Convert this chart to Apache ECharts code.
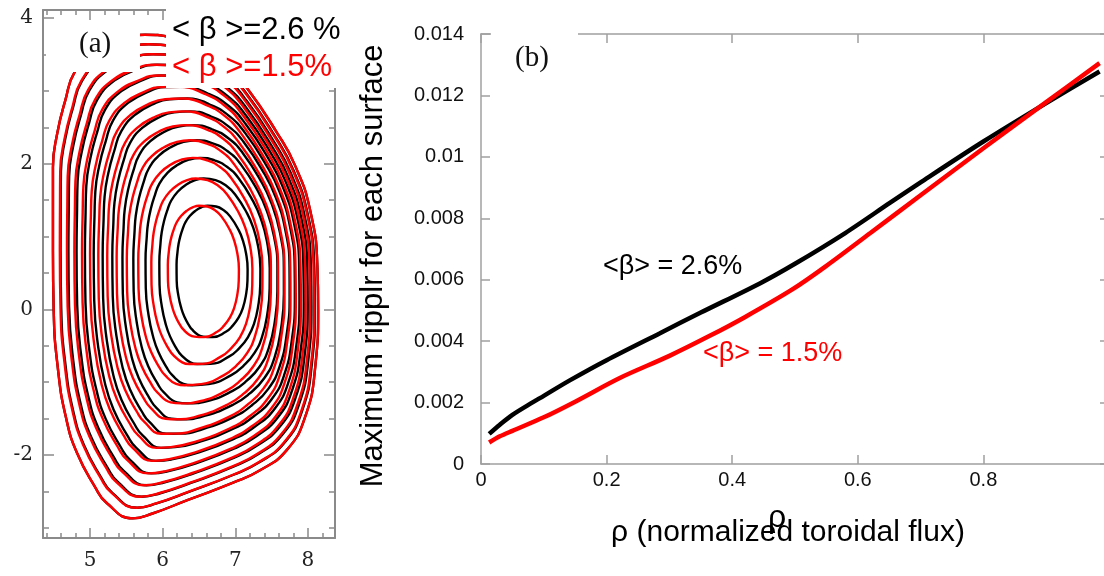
<!DOCTYPE html>
<html><head><meta charset="utf-8">
<script src="https://cdn.jsdelivr.net/npm/echarts@6/dist/echarts.min.js"></script>
<style>html,body{margin:0;padding:0;background:#fff}#c{width:1104px;height:576px}</style>
</head><body><div id="c"></div>
<script>
// ---------- Panel (b): maximum ripple vs rho ----------
const rhoBlack    = [0.013,0.03,0.05,0.08,0.1,0.142,0.2,0.285,0.35,0.444,0.5,0.58,0.651,0.7,0.8,0.9,0.985];
const rippleBlack = [0.00098,0.00128,0.00160,0.00198,0.00222,0.00273,0.00338,0.00426,0.00493,0.00588,0.00652,0.00752,0.00850,0.00917,0.01050,0.01175,0.01278];
const rhoRed      = [0.013,0.03,0.05,0.1,0.15,0.221,0.3,0.365,0.42,0.497,0.55,0.62,0.7,0.8,0.9,0.985];
const rippleRed   = [0.00070,0.00090,0.00108,0.00152,0.00203,0.00280,0.00352,0.00418,0.00478,0.00570,0.00645,0.00752,0.00875,0.01028,0.01178,0.01305];

// ---------- Panel (a): flux surfaces ----------
// outer (last closed) flux surface (R, Z)
const boundaryR = [5.76,6.10,6.51,6.86,7.16,7.57,7.82,8.03,8.13,8.14,8.10,7.96,7.71,7.34,6.97,6.34,5.87,5.59,5.23,5.07,4.82,4.67,4.56,4.50,4.49,4.49,4.49,4.55,4.66,4.79,5.07,5.41];
const boundaryZ = [3.77,3.74,3.59,3.37,3.04,2.43,1.98,1.36,0.58,-0.01,-0.79,-1.48,-1.93,-2.21,-2.38,-2.62,-2.80,-2.87,-2.66,-2.44,-1.97,-1.49,-0.83,-0.01,0.81,1.50,1.95,2.42,2.87,3.26,3.56,3.71];
const axisBlack = [6.71, 0.52];   // magnetic axis, <beta>=2.6%
const axisRed   = [6.58, 0.52];   // magnetic axis, <beta>=1.5%
const coreShape = [1.75, 3.30];   // near-axis ellipse half-width / half-height (scaled by rho)
const surfaceRho = [0.277,0.392,0.480,0.555,0.620,0.679,0.734,0.784,0.832,0.877,0.920,0.961,1.0];
const xMajorA = [5,6,7,8];
const xMinorA = [4.4,4.6,4.8,5.2,5.4,5.6,5.8,6.2,6.4,6.6,6.8,7.2,7.4,7.6,7.8,8.2];
const yMajorA = [-2,0,2,4];
const yMinorA = [-3,-2.5,-1.5,-1,-0.5,0.5,1,1.5,2.5,3,3.5];

const bcR = (Math.min(...boundaryR)+Math.max(...boundaryR))/2;
const bcZ = (Math.min(...boundaryZ)+Math.max(...boundaryZ))/2;
function surface(axis, rho){
  const n = boundaryR.length, pts = [];
  const s = 1 - rho*rho, w = rho;
  const cx = bcR + (axis[0]-bcR)*s, cz = bcZ + (axis[1]-bcZ)*s;
  for (let j=0;j<n;j++){
    const dx = boundaryR[j]-bcR, dz = boundaryZ[j]-bcZ;
    const th = Math.atan2(dz, dx);
    const re = 1/Math.sqrt(Math.pow(Math.cos(th)/coreShape[0],2)+Math.pow(Math.sin(th)/coreShape[1],2));
    const ex = re*Math.cos(th), ez = re*Math.sin(th);
    pts.push([cx + rho*((1-w)*ex + w*dx), cz + rho*((1-w)*ez + w*dz)]);
  }
  return [pts[n-2], pts[n-1]].concat(pts, [pts[0], pts[1], pts[2]]);
}

const gray = '#8a8a8a';
const serifLbl = {fontFamily:'DejaVu Serif', fontSize:20, color:'#222'};
const sansLbl = {fontFamily:'Liberation Sans', fontSize:20, color:'#111'};
const xA = [4.353, 8.372], yA = [-3.14, 4.11];

function axA(kind, pos, vals, len, showLine, label){
  return {gridIndex:0, type:'value', position:pos, min:(kind==='x'?xA:yA)[0], max:(kind==='x'?xA:yA)[1],
    axisLine:{show:showLine, onZero:false, lineStyle:{color:gray, width:2}},
    axisTick:{show:true, inside:true, length:len, customValues:vals, lineStyle:{color:gray, width:1.5}},
    axisLabel:label ? Object.assign({show:true, customValues:vals, margin:kind==='x'?13:10}, serifLbl) : {show:false},
    splitLine:{show:false}};
}

const series = [];
surfaceRho.forEach(r => series.push({type:'line', xAxisIndex:0, yAxisIndex:0, data:surface(axisBlack, r), smooth:0.5,
  showSymbol:false, silent:true, lineStyle:{color:'#000', width:2.4}, z:3}));
surfaceRho.forEach(r => series.push({type:'line', xAxisIndex:0, yAxisIndex:0, data:surface(axisRed, r), smooth:0.5,
  showSymbol:false, silent:true, lineStyle:{color:'#ff0000', width:2.4}, z:4}));
series.push({type:'line', name:'<β> = 2.6%', xAxisIndex:4, yAxisIndex:4, data:rhoBlack.map((x,i)=>[x, rippleBlack[i]]),
  smooth:0.3, showSymbol:false, lineStyle:{color:'#000', width:4.5}, z:5});
series.push({type:'line', name:'<β> = 1.5%', xAxisIndex:4, yAxisIndex:4, data:rhoRed.map((x,i)=>[x, rippleRed[i]]),
  smooth:0.3, showSymbol:false, lineStyle:{color:'#ff0000', width:4.5}, z:5});

const axB = {color:'#a0a0a0', width:1.5};
const option = {
  animation:false,
  backgroundColor:'#fff',
  grid:[
    {left:43, top:10, width:292, height:528, outerBoundsMode:'none', containLabel:false},
    {left:481, top:34, width:628, height:430, outerBoundsMode:'none', containLabel:false}
  ],
  xAxis:[
    axA('x','bottom',xMajorA,10,true,true),
    axA('x','bottom',xMinorA,5,false,false),
    axA('x','top',xMajorA,10,true,false),
    axA('x','top',xMinorA,5,false,false),
    {gridIndex:1, type:'value', position:'bottom', min:0, max:1, interval:0.2,
      axisLine:{onZero:false, lineStyle:axB}, axisTick:{inside:true, length:9, lineStyle:axB},
      axisLabel:Object.assign({margin:6, showMaxLabel:false}, sansLbl), splitLine:{show:false}},
    {gridIndex:1, type:'value', position:'top', min:0, max:1, interval:0.2,
      axisLine:{onZero:false, lineStyle:axB}, axisTick:{inside:true, length:9, lineStyle:axB},
      axisLabel:{show:false}, splitLine:{show:false}}
  ],
  yAxis:[
    axA('y','left',yMajorA,11,true,true),
    axA('y','left',yMinorA,6,false,false),
    axA('y','right',yMajorA,11,true,false),
    axA('y','right',yMinorA,6,false,false),
    {gridIndex:1, type:'value', position:'left', min:0, max:0.014, interval:0.002,
      axisLine:{onZero:false, lineStyle:axB}, axisTick:{inside:true, length:9, lineStyle:axB},
      axisLabel:Object.assign({margin:17}, sansLbl), splitLine:{show:false}},
    {gridIndex:1, type:'value', position:'right', min:0, max:0.014, interval:0.002,
      axisLine:{onZero:false, lineStyle:axB}, axisTick:{inside:true, length:9, lineStyle:axB},
      axisLabel:{show:false}, splitLine:{show:false}}
  ],
  series:series,
  graphic:[
    {type:'rect', z:100, shape:{x:46, y:20, width:94, height:52}, style:{fill:'#fff'}},
    {type:'text', z:101, left:79, top:30, style:{text:'(a)', font:'29px "Liberation Serif"', fill:'#111'}},
    {type:'rect', z:100, shape:{x:166, y:0, width:176, height:88}, style:{fill:'#fff'}},
    {type:'text', z:101, left:172, top:15, style:{text:'< β >=2.6 %', font:'31px "Liberation Sans"', fill:'#000'}},
    {type:'text', z:101, left:172, top:52, style:{text:'< β >=1.5%', font:'31px "Liberation Sans"', fill:'#ff0000'}},
    {type:'rect', z:100, shape:{x:491, y:0, width:87, height:90}, style:{fill:'#fff'}},
    {type:'text', z:101, left:515, top:44, style:{text:'(b)', font:'29px "Liberation Serif"', fill:'#111'}},
    {type:'text', z:101, left:603, top:253, style:{text:'<β> = 2.6%', font:'27px "Liberation Sans"', fill:'#000'}},
    {type:'text', z:101, left:703, top:340, style:{text:'<β> = 1.5%', font:'27px "Liberation Sans"', fill:'#ff0000'}},
    {type:'text', z:101, x:373, y:266, rotation:Math.PI/2, style:{text:'Maximum ripplr for each surface', font:'31px "Liberation Sans"', fill:'#000', align:'center', verticalAlign:'middle'}},
    {type:'text', z:101, x:788, y:533, style:{text:'ρ (normalized toroidal flux)', font:'30px "Liberation Sans"', fill:'#000', align:'center', verticalAlign:'middle'}},
    {type:'text', z:102, x:777, y:518, style:{text:'ρ', font:'32px "Liberation Sans"', fill:'#000', align:'center', verticalAlign:'middle'}}
  ]
};
const chart = echarts.init(document.getElementById('c'));
chart.setOption(option);
</script></body></html>
